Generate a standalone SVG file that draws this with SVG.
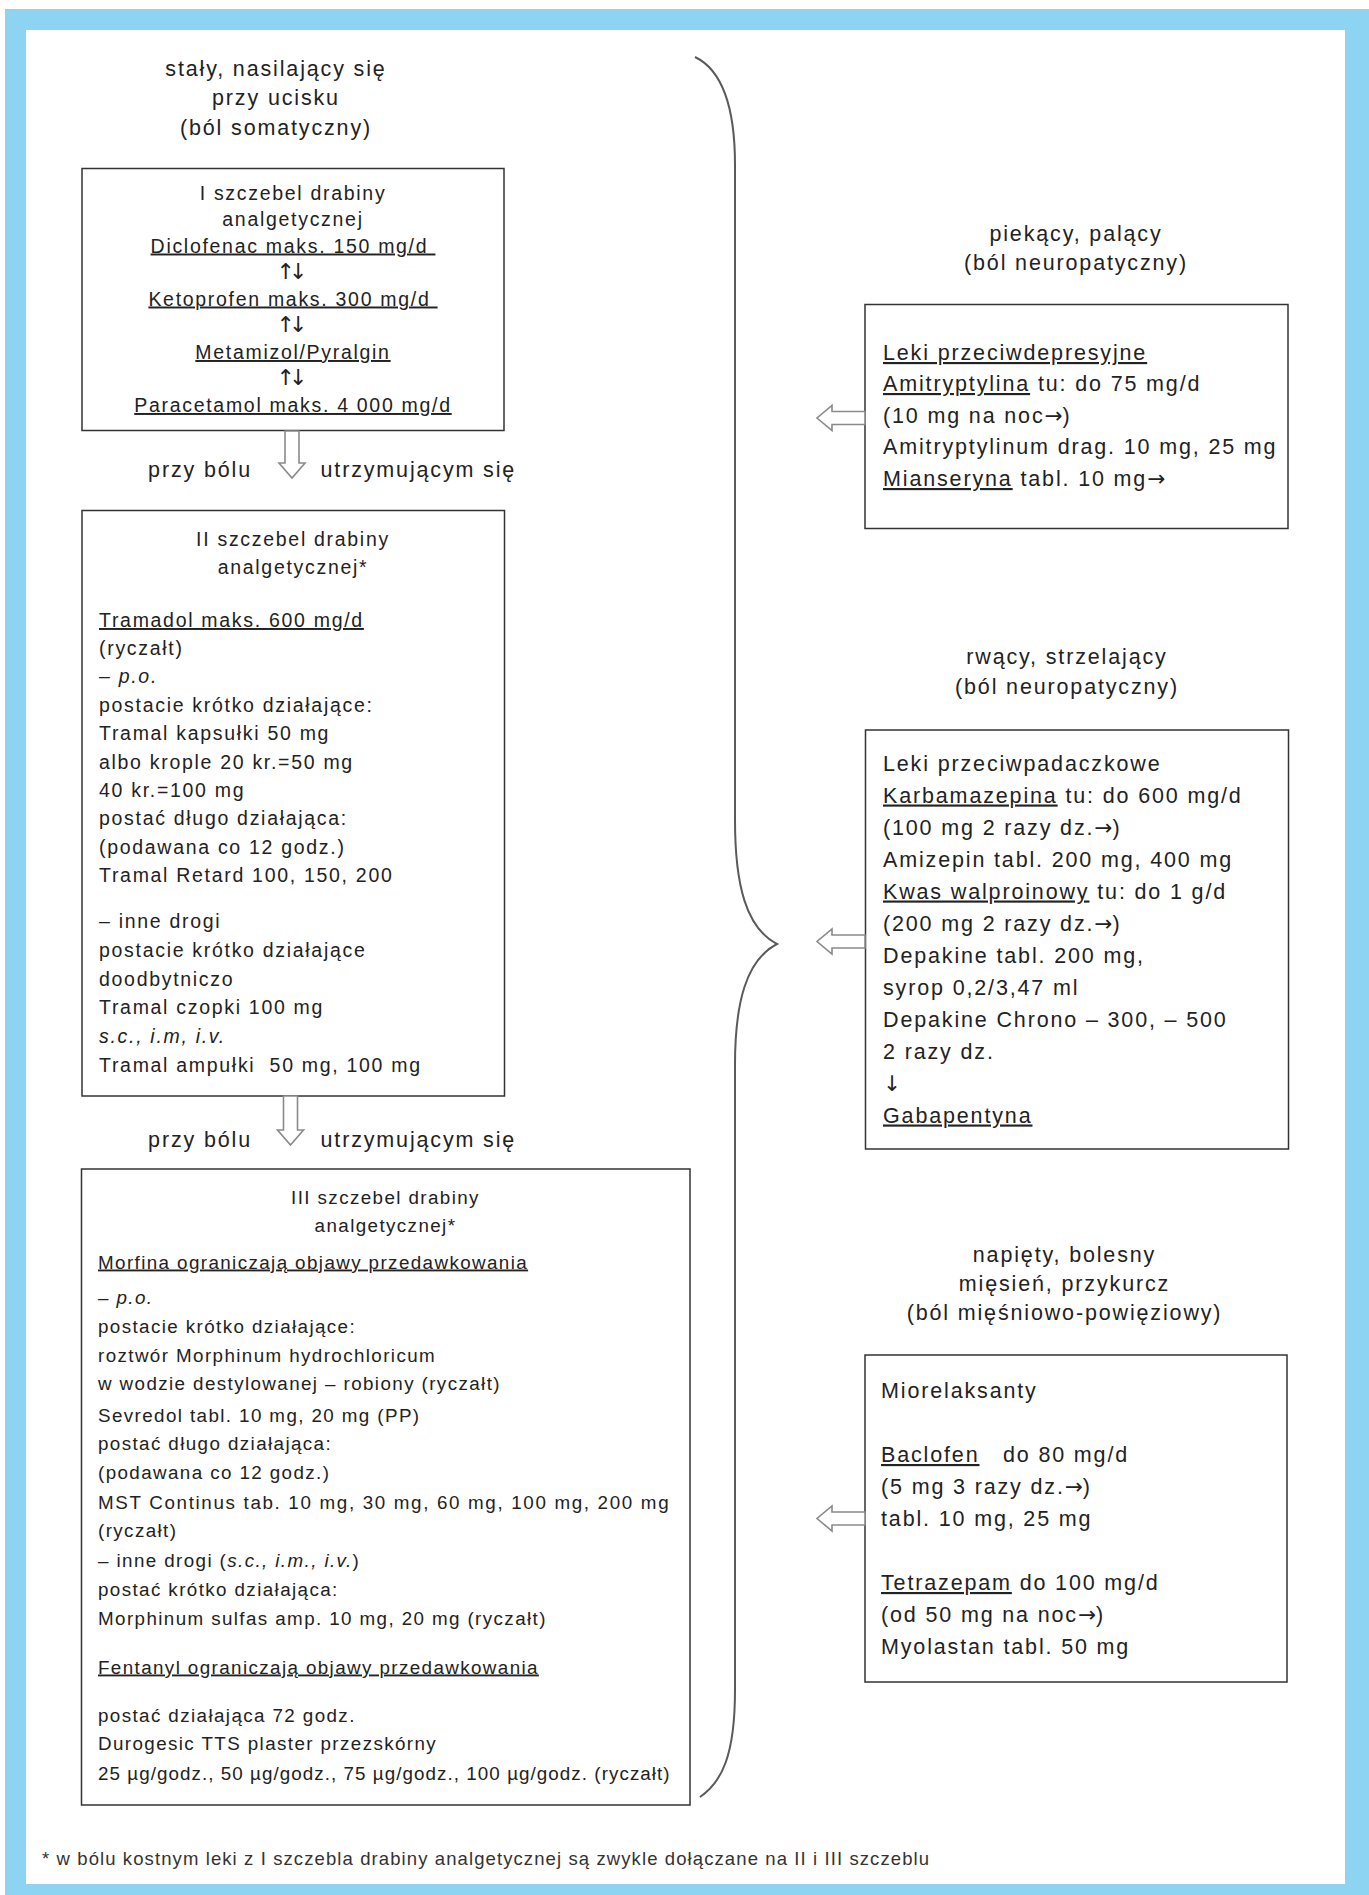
<svg xmlns="http://www.w3.org/2000/svg" width="1369" height="1895" viewBox="0 0 1369 1895">
<style>
.frame{fill:#8dd4f3}
.inner{fill:#ffffff}
.box{fill:#ffffff;stroke:#333333;stroke-width:1.5}
text{font-family:"Liberation Sans",Arial,sans-serif;fill:#222222}
.t{font-size:19.5px;letter-spacing:1.7px}
.t3{font-size:18.8px;letter-spacing:1.4px}
.r{font-size:21.5px;letter-spacing:1.85px}
.lbl{font-size:21.5px;letter-spacing:1.85px;text-anchor:middle}
.fn{font-size:18.5px;letter-spacing:1.1px;fill:#333333}
.c{text-anchor:middle}
.u{text-decoration:underline}
.i{font-style:italic}
.a{font-family:"DejaVu Sans",sans-serif;letter-spacing:0}
.ud{font-family:"DejaVu Sans",sans-serif;font-size:22px;letter-spacing:-6px}
.arr{fill:#ffffff;stroke:#8a8a8a;stroke-width:1.6;stroke-linejoin:miter}
.brace{fill:none;stroke:#5a5a5a;stroke-width:2}
</style>
<rect class="frame" x="5" y="9" width="1364" height="1886"/>
<rect class="inner" x="26" y="30" width="1319" height="1854"/>

<g id="label-somatic">
<text class="lbl" x="276" y="76">stały, nasilający się</text>
<text class="lbl" x="276" y="105">przy ucisku</text>
<text class="lbl" x="276" y="134.5">(ból somatyczny)</text>
</g>

<g id="step1">
<rect class="box" x="82" y="168.5" width="422" height="262"/>
<text class="t c" x="293" y="199.5">I szczebel drabiny</text>
<text class="t c" x="293" y="226">analgetycznej</text>
<text class="t c" x="293" y="252.5"><tspan class="u">Diclofenac maks. 150 mg/d&#160;</tspan></text>
<text class="ud c" x="289" y="279">↑↓</text>
<text class="t c" x="293" y="305.5"><tspan class="u">Ketoprofen maks. 300 mg/d&#160;</tspan></text>
<text class="ud c" x="289" y="332">↑↓</text>
<text class="t c" x="293" y="359"><tspan class="u">Metamizol/Pyralgin</tspan></text>
<text class="ud c" x="289" y="385">↑↓</text>
<text class="t c" x="293" y="412"><tspan class="u">Paracetamol maks. 4 000 mg/d</tspan></text>
</g>

<g id="step2">
<rect class="box" x="82" y="510.5" width="422.5" height="585.5"/>
<text class="t c" x="293" y="546">II szczebel drabiny</text>
<text class="t c" x="293" y="574">analgetycznej*</text>
<text class="t" x="99" y="627"><tspan class="u">Tramadol maks. 600 mg/d</tspan></text>
<text class="t" x="99" y="655">(ryczałt)</text>
<text class="t" x="99" y="683">– <tspan class="i">p.o.</tspan></text>
<text class="t" x="99" y="711.5">postacie krótko działające:</text>
<text class="t" x="99" y="740">Tramal kapsułki 50 mg</text>
<text class="t" x="99" y="768.5">albo krople 20 kr.=50 mg</text>
<text class="t" x="99" y="797">40 kr.=100 mg</text>
<text class="t" x="99" y="825">postać długo działająca:</text>
<text class="t" x="99" y="853.5">(podawana co 12 godz.)</text>
<text class="t" x="99" y="882">Tramal Retard 100, 150, 200</text>
<text class="t" x="99" y="927.5">– inne drogi</text>
<text class="t" x="99" y="956.5">postacie krótko działające</text>
<text class="t" x="99" y="985.5">doodbytniczo</text>
<text class="t" x="99" y="1014">Tramal czopki 100 mg</text>
<text class="t i" x="99" y="1043">s.c., i.m, i.v.</text>
<text class="t" x="99" y="1071.5" xml:space="preserve">Tramal ampułki  50 mg, 100 mg</text>
</g>

<g id="step3">
<rect class="box" x="81.5" y="1169" width="608.5" height="636"/>
<text class="t3 c" x="385.5" y="1203.5">III szczebel drabiny</text>
<text class="t3 c" x="385.5" y="1231.5">analgetycznej*</text>
<text class="t3" x="98" y="1268.5"><tspan class="u">Morfina ograniczają objawy przedawkowania</tspan></text>
<text class="t3" x="98" y="1303.5">– <tspan class="i">p.o.</tspan></text>
<text class="t3" x="98" y="1332.5">postacie krótko działające:</text>
<text class="t3" x="98" y="1361.5">roztwór Morphinum hydrochloricum</text>
<text class="t3" x="98" y="1390">w wodzie destylowanej – robiony (ryczałt)</text>
<text class="t3" x="98" y="1421.5">Sevredol tabl. 10 mg, 20 mg (PP)</text>
<text class="t3" x="98" y="1450">postać długo działająca:</text>
<text class="t3" x="98" y="1479">(podawana co 12 godz.)</text>
<text class="t3" x="98" y="1508.5" textLength="572" lengthAdjust="spacing">MST Continus tab. 10 mg, 30 mg, 60 mg, 100 mg, 200 mg</text>
<text class="t3" x="98" y="1537">(ryczałt)</text>
<text class="t3" x="98" y="1566.5">– inne drogi (<tspan class="i">s.c., i.m., i.v.</tspan>)</text>
<text class="t3" x="98" y="1596">postać krótko działająca:</text>
<text class="t3" x="98" y="1625">Morphinum sulfas amp. 10 mg, 20 mg (ryczałt)</text>
<text class="t3" x="98" y="1673.5"><tspan class="u">Fentanyl ograniczają objawy przedawkowania</tspan></text>
<text class="t3" x="98" y="1721.5">postać działająca 72 godz.</text>
<text class="t3" x="98" y="1750">Durogesic TTS plaster przezskórny</text>
<text class="t3" x="98" y="1780" textLength="573" lengthAdjust="spacing">25 µg/godz., 50 µg/godz., 75 µg/godz., 100 µg/godz. (ryczałt)</text>
</g>

<g id="label-neuro1">
<text class="lbl" x="1076" y="241">piekący, palący</text>
<text class="lbl" x="1076" y="270">(ból neuropatyczny)</text>
</g>

<g id="antidepressants">
<rect class="box" x="865" y="304.5" width="423" height="224"/>
<text class="r" x="883" y="360"><tspan class="u">Leki przeciwdepresyjne</tspan></text>
<text class="r" x="883" y="391"><tspan class="u">Amitryptylina</tspan> tu: do 75 mg/d</text>
<text class="r" x="883" y="423">(10 mg na noc<tspan class="a">→</tspan>)</text>
<text class="r" x="883" y="454">Amitryptylinum drag. 10 mg, 25 mg</text>
<text class="r" x="883" y="486"><tspan class="u">Mianseryna</tspan> tabl. 10 mg<tspan class="a">→</tspan></text>
</g>

<g id="label-neuro2">
<text class="lbl" x="1067" y="664">rwący, strzelający</text>
<text class="lbl" x="1067" y="694">(ból neuropatyczny)</text>
</g>

<g id="antiepileptics">
<rect class="box" x="865.5" y="730" width="423" height="419"/>
<text class="r" x="883" y="770.5">Leki przeciwpadaczkowe</text>
<text class="r" x="883" y="802.5"><tspan class="u">Karbamazepina</tspan> tu: do 600 mg/d</text>
<text class="r" x="883" y="834.5">(100 mg 2 razy dz.<tspan class="a">→</tspan>)</text>
<text class="r" x="883" y="866.5">Amizepin tabl. 200 mg, 400 mg</text>
<text class="r" x="883" y="898.5"><tspan class="u">Kwas walproinowy</tspan> tu: do 1 g/d</text>
<text class="r" x="883" y="930.5">(200 mg 2 razy dz.<tspan class="a">→</tspan>)</text>
<text class="r" x="883" y="962.5">Depakine tabl. 200 mg,</text>
<text class="r" x="883" y="994.5">syrop 0,2/3,47 ml</text>
<text class="r" x="883" y="1026.5">Depakine Chrono – 300, – 500</text>
<text class="r" x="883" y="1058.5">2 razy dz.</text>
<text class="r a" x="883" y="1090.5">↓</text>
<text class="r" x="883" y="1122.5"><tspan class="u">Gabapentyna</tspan></text>
</g>

<g id="label-myofascial">
<text class="lbl" x="1064.5" y="1262">napięty, bolesny</text>
<text class="lbl" x="1064.5" y="1290.5">mięsień, przykurcz</text>
<text class="lbl" x="1064.5" y="1320">(ból mięśniowo-powięziowy)</text>
</g>

<g id="myorelaxants">
<rect class="box" x="865" y="1355" width="422" height="327"/>
<text class="r" x="881" y="1397.5">Miorelaksanty</text>
<text class="r" x="881" y="1462" xml:space="preserve"><tspan class="u">Baclofen</tspan>   do 80 mg/d</text>
<text class="r" x="881" y="1494">(5 mg 3 razy dz.<tspan class="a">→</tspan>)</text>
<text class="r" x="881" y="1526">tabl. 10 mg, 25 mg</text>
<text class="r" x="881" y="1590"><tspan class="u">Tetrazepam</tspan> do 100 mg/d</text>
<text class="r" x="881" y="1622">(od 50 mg na noc<tspan class="a">→</tspan>)</text>
<text class="r" x="881" y="1654">Myolastan tabl. 50 mg</text>
</g>

<g id="connectors">
<polygon class="arr" points="285,431 285,463 279,463 292,478 305,463 299,463 299,431"/>
<text class="lbl" x="252" y="477" style="text-anchor:end">przy bólu</text>
<text class="lbl" x="320.5" y="477" style="text-anchor:start">utrzymującym się</text>
<polygon class="arr" points="283.5,1096 283.5,1130 277.5,1130 290.5,1145 303.5,1130 297.5,1130 297.5,1096"/>
<text class="lbl" x="252" y="1147" style="text-anchor:end">przy bólu</text>
<text class="lbl" x="320.5" y="1147" style="text-anchor:start">utrzymującym się</text>
<path class="brace" d="M 695,57 C 722,70 735,105 735,165 L 735,820 C 735,885 746,928 777,944 C 746,960 735,1003 735,1065 L 735,1690 C 735,1755 722,1782 700,1797"/>
<polygon class="arr" points="865,411.5 832,411.5 832,405.5 817,418 832,430.5 832,424.5 865,424.5"/>
<polygon class="arr" points="865,935 832,935 832,929 817,941.5 832,954 832,948 865,948"/>
<polygon class="arr" points="865,1512 832,1512 832,1506 817,1518.5 832,1531 832,1525 865,1525"/>
</g>

<g id="footnote">
<text class="fn" x="42" y="1865">* w bólu kostnym leki z I szczebla drabiny analgetycznej są zwykle dołączane na II i III szczeblu</text>
</g>
</svg>
